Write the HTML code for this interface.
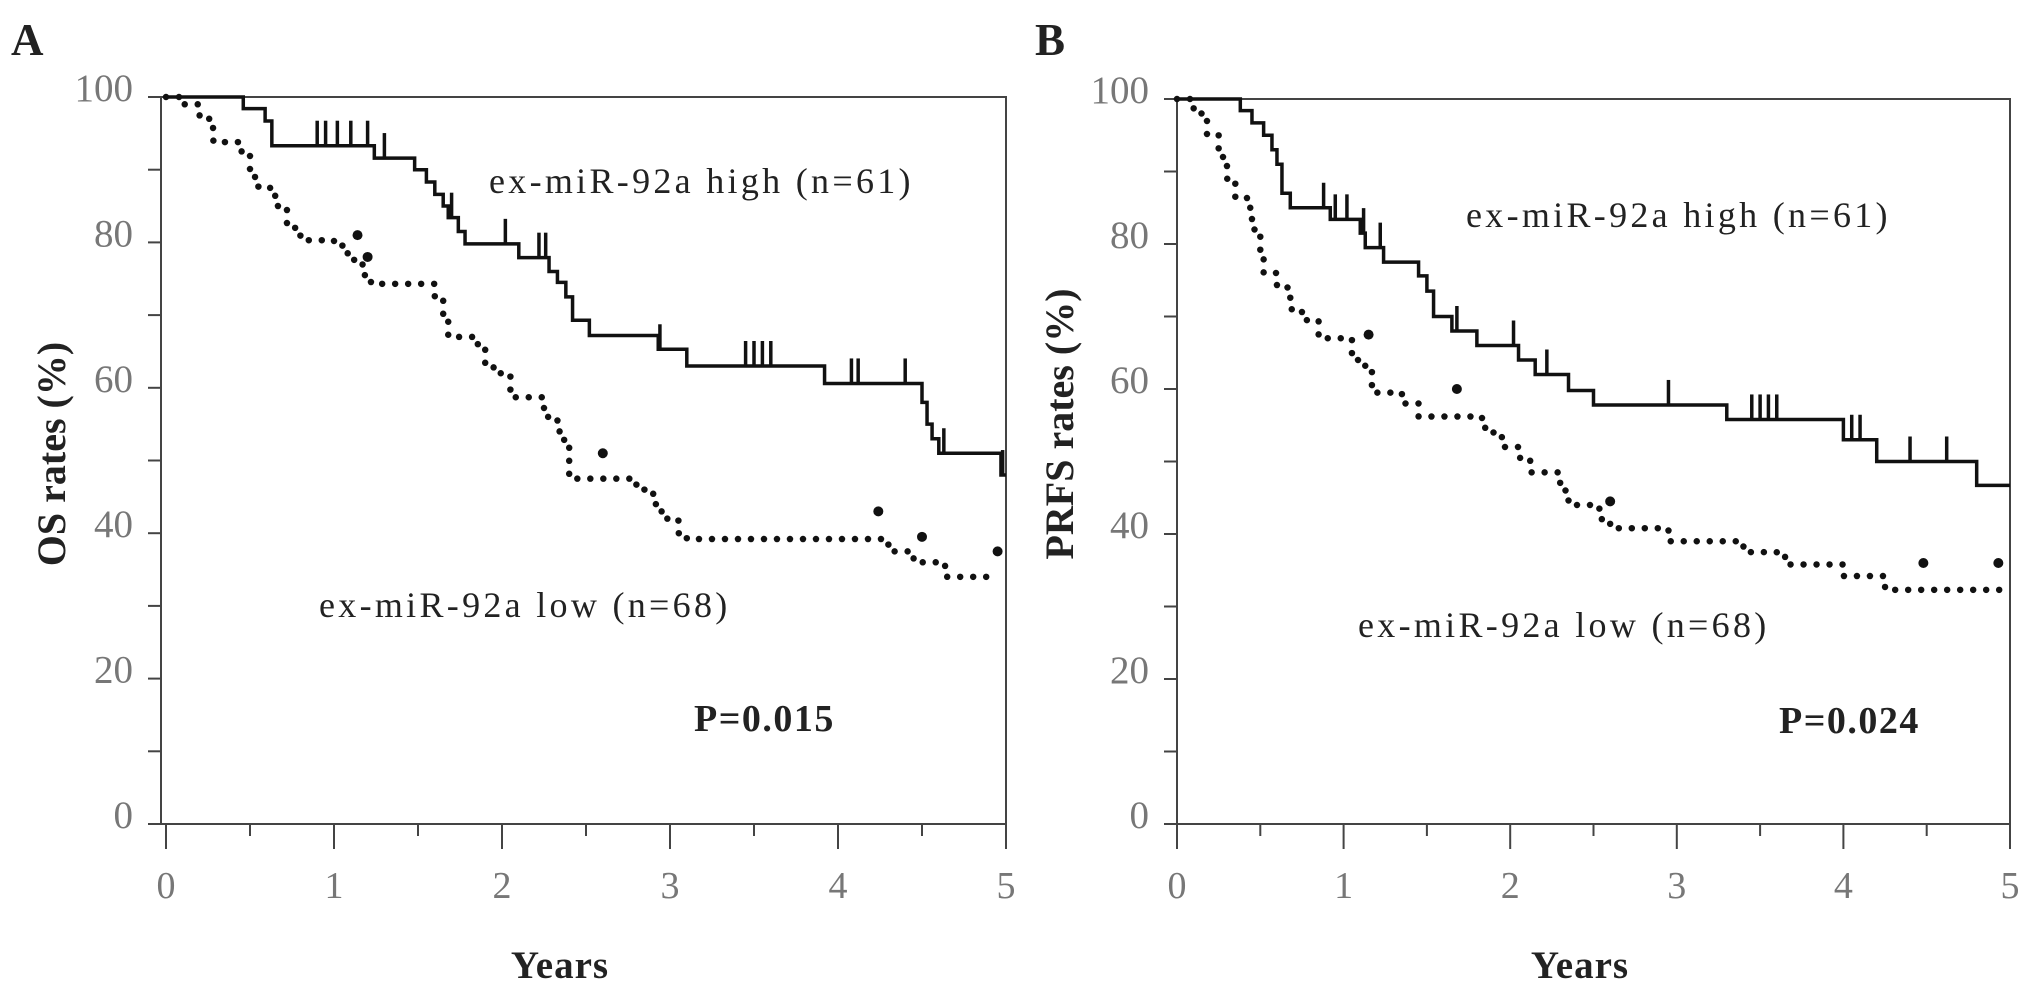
<!DOCTYPE html>
<html><head><meta charset="utf-8"><style>
html,body{margin:0;padding:0;background:#fff;}
svg{display:block;}
text{font-family:"Liberation Serif",serif;}
</style></head><body>
<svg id="fig" width="2031" height="987" viewBox="0 0 2031 987"></svg>
<script>
// Panel A (OS)
const aHighT=[0,0.46,0.59,0.63,1.24,1.48,1.55,1.6,1.65,1.68,1.74,1.78,2.1,2.28,2.33,2.38,2.42,2.52,2.93,3.1,3.92,4.5,4.53,4.56,4.6,4.97,5];
const aHighS=[100,98.4,96.7,93.3,91.6,90,88.3,86.6,85,83.4,81.5,79.8,77.9,76,74.5,72.5,69.3,67.2,65.3,63.0,60.6,58,55,53,51,48,48];
const aHighCens=[0.9,0.95,1.02,1.1,1.2,1.3,1.7,2.02,2.22,2.26,2.94,3.45,3.5,3.55,3.6,4.08,4.12,4.4,4.63,4.98];
const aLowT=[0,0.1,0.2,0.28,0.35,0.45,0.5,0.55,0.65,0.72,0.8,1.0,1.05,1.12,1.17,1.22,1.55,1.6,1.65,1.68,1.85,1.9,1.95,2.05,2.2,2.25,2.33,2.37,2.4,2.42,2.7,2.8,2.9,2.95,3.05,3.1,4.25,4.3,4.45,4.6,4.65,4.95];
const aLowS=[100,99,97,94,93.8,92,89,87.5,85,82,80.3,80,78.5,77,75.5,74.3,74.3,72,70,67,66,63,62,58.7,58.7,56,54,52,48,47.5,47.5,46,44,42,40,39.2,39.2,37.5,36,35.5,34,34];
const aLowCensT=[1.14,1.2,2.6,4.24,4.5,4.95];
const aLowCensS=[81,78,51,43,39.5,37.5];
// Panel B (PRFS)
const bHighT=[0,0.38,0.45,0.52,0.57,0.6,0.63,0.68,0.92,1.1,1.13,1.24,1.45,1.5,1.54,1.65,1.8,2.05,2.15,2.35,2.5,3.3,4.0,4.2,4.8,5];
const bHighS=[100,98.4,96.7,95,93,91,87,85,83.4,81.5,79.5,77.5,75.6,73.5,70,68,66,64,62,59.8,57.8,55.8,53,50,46.7,46.7];
const bHighCens=[0.88,0.95,1.02,1.12,1.22,1.68,2.02,2.22,2.95,3.45,3.5,3.55,3.6,4.05,4.1,4.4,4.62];
const bLowT=[0,0.1,0.18,0.25,0.3,0.35,0.42,0.45,0.5,0.52,0.6,0.68,0.75,0.85,1.0,1.05,1.13,1.17,1.3,1.35,1.45,1.65,1.8,1.85,1.95,2.05,2.12,2.25,2.3,2.35,2.5,2.55,2.6,2.9,2.95,3.35,3.4,3.6,3.65,3.95,4.0,4.2,4.25,4.95];
const bLowS=[100,98,95,92,89,86.5,85,82,78,76,74,71,69.5,67,67,64,63,59.5,59.5,58,56.2,56.2,56,54,52,50.5,48.5,48.5,46,44,43.5,42,40.8,40.8,39,39,37.5,37.2,35.8,35.8,34.2,34.2,32.3,32.3];
const bLowCensT=[1.15,1.68,2.6,4.48,4.93];
const bLowCensS=[67.5,60,44.5,36,36];
const xTicks=[0,1,2,3,4,5];
const yTicks=[0,20,40,60,80,100];

const NS="http://www.w3.org/2000/svg";
const svg=document.getElementById('fig');
function mk(tag,attrs,parent){const e=document.createElementNS(NS,tag);for(const k in attrs)e.setAttribute(k,attrs[k]);(parent||svg).appendChild(e);return e;}

function panel(cfg){
  const g=mk('g',{});
  
  
  const X=t=>cfg.x0+(cfg.x5-cfg.x0)*t/5;
  const Y=s=>cfg.yb+(cfg.yt-cfg.yb)*s/100;
  const frame=mk('rect',{x:cfg.ax,y:cfg.yt,width:cfg.x5-cfg.ax,height:cfg.yb-cfg.yt,fill:'none',stroke:'#444','stroke-width':2},g);
  
  
  for(let v=0;v<=100;v+=10){
    const t=mk('line',{x1:cfg.ax-13,x2:cfg.ax,y1:Y(v),y2:Y(v),stroke:'#444','stroke-width':2},g);
    
    
  }
  yTicks.forEach(v=>{
    const t=mk('text',{x:cfg.ax-28,y:Y(v)+4,'text-anchor':'end','font-size':39,fill:'#777'},g);
    t.textContent=v;
    
    
  });
  for(let v=0;v<=5;v+=0.5){
    const t=mk('line',{x1:X(v),x2:X(v),y1:cfg.yb,y2:cfg.yb+(v%1===0?25:12),stroke:'#444','stroke-width':2},g);
    
    
  }
  xTicks.forEach(v=>{
    const t=mk('text',{x:X(v),y:898,'text-anchor':'middle','font-size':38,fill:'#777'},g);
    t.textContent=v;
    
    
  });
  const step=(T,S)=>{let d='M'+X(T[0])+','+Y(S[0]);for(let i=1;i<T.length;i++){d+=' H'+X(T[i])+' V'+Y(S[i]);}return d;};
  const sv=(T,S,t)=>{let v=S[0];for(let i=0;i<T.length;i++){if(T[i]<=t)v=S[i];}return v;};
  const hp=mk('path',{d:step(cfg.hT,cfg.hS),fill:'none',stroke:'#111','stroke-width':3.5},g);
  
  
  cfg.hC.forEach(t=>{
    const y=Y(sv(cfg.hT,cfg.hS,t));
    const c=mk('line',{x1:X(t),x2:X(t),y1:y,y2:y-25,stroke:'#111','stroke-width':3.5},g);
    
    
  });
  const lp=mk('path',{d:step(cfg.lT,cfg.lS),fill:'none',stroke:'#111','stroke-width':6.5,'stroke-linecap':'round','stroke-dasharray':'0 13'},g);
  
  
  cfg.lCT.forEach((t,i)=>{
    const c=mk('circle',{cx:X(t),cy:Y(cfg.lCS[i]),r:5,fill:'#111'},g);
    
    
  });
  const lbl=(txt,x,y,attrs,name)=>{const t=mk('text',Object.assign({x:x,y:y,fill:'#222'},attrs),g);t.textContent=txt;return t;};
  lbl(cfg.letter,cfg.letterX,55,{'font-size':45,'font-weight':'bold'},'panel-letter');
  lbl('Years',cfg.yrX,978,{'font-size':39,'font-weight':'bold','text-anchor':'middle','letter-spacing':'1'},'x-axis-title');
  lbl(cfg.yTitle,0,0,{'font-size':40,'font-weight':'bold','text-anchor':'middle',transform:'translate('+(cfg.yTitleX)+','+cfg.yTitleY+') rotate(-90)'},'y-axis-title');
  lbl('ex-miR-92a high (n=61)',cfg.hiX,cfg.hiY,{'font-size':36,'letter-spacing':'3.3'},'high-group-label');
  lbl('ex-miR-92a low (n=68)',cfg.loX,cfg.loY,{'font-size':36,'letter-spacing':'3.3'},'low-group-label');
  lbl(cfg.p,cfg.pX,cfg.pY,{'font-size':38,'font-weight':'bold','letter-spacing':'1.5'},'p-value-label');
}
panel({id:'os',ax:161,x0:166,x5:1006,yt:97,yb:824,hT:aHighT,hS:aHighS,hC:aHighCens,lT:aLowT,lS:aLowS,lCT:aLowCensT,lCS:aLowCensS,
  letter:'A',letterX:11,yrX:560,yTitle:'OS rates (%)',yTitleX:65,yTitleY:454,hiX:489,hiY:193,loX:319,loY:617,p:'P=0.015',pX:694,pY:731});
panel({id:'prfs',ax:1177,x0:1177,x5:2010,yt:99,yb:824,hT:bHighT,hS:bHighS,hC:bHighCens,lT:bLowT,lS:bLowS,lCT:bLowCensT,lCS:bLowCensS,
  letter:'B',letterX:1035,yrX:1580,yTitle:'PRFS rates (%)',yTitleX:1073,yTitleY:424,hiX:1466,hiY:227,loX:1358,loY:637,p:'P=0.024',pX:1779,pY:733});
</script>
</body></html>
